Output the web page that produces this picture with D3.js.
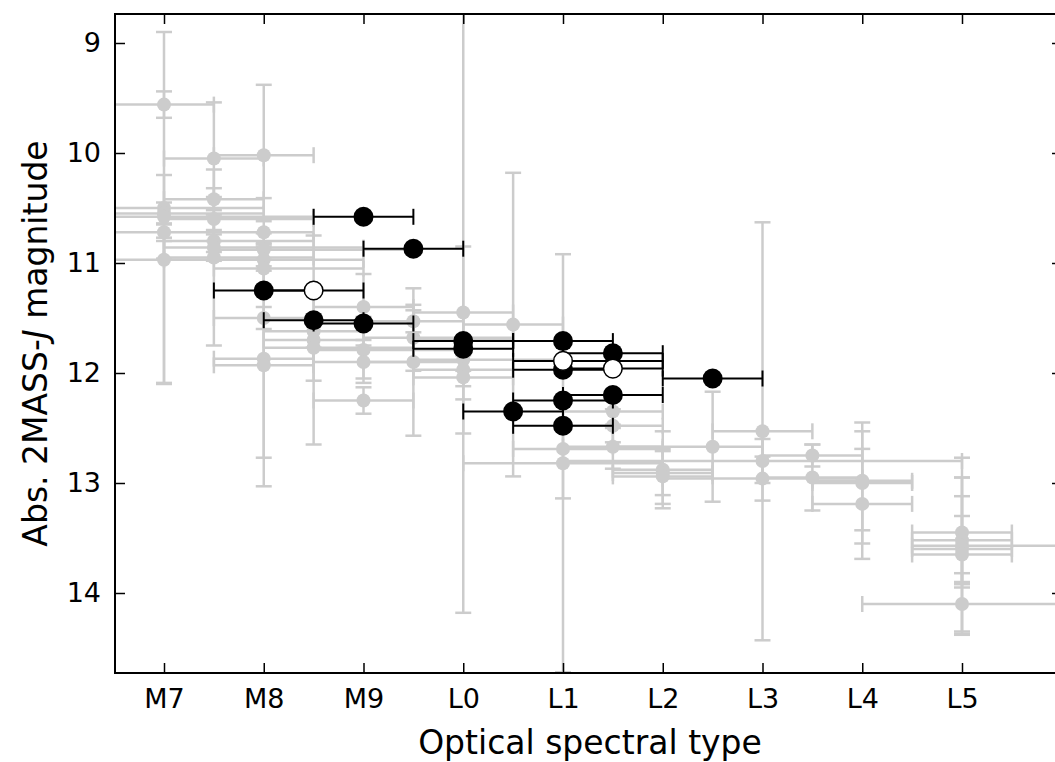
<!DOCTYPE html>
<html><head><meta charset="utf-8">
<script src="https://cdn.jsdelivr.net/npm/d3@7"></script>
<style>body{margin:0;background:#fff;} svg{display:block;}</style>
</head><body>
<script>
// Spectral type numeric code: M7=7 ... M9=9, L0=10 ... L5=15
const tickValues = [7,8,9,10,11,12,13,14,15];
const tickLabels = ["M7","M8","M9","L0","L1","L2","L3","L4","L5"];
const yTicks = [9,10,11,12,13,14];

// Comparison sample (gray): [spt, absJ, xerrLow, xerrHigh, yerrLow, yerrHigh]
const grayData = [
  [7, 9.56, 0.5,0.5, 0.12,0.12],
  [7, 10.5, 0.5,1.0, 1.6,1.6],
  [7, 10.55, 0.5,1.0, 0.1,0.1],
  [7, 10.58, 0.5,1.5, 0.38,0.38],
  [7, 10.72, 0.5,0.5, 0.08,0.08],
  [7, 10.97, 0.5,1.0, 0.2,1.12],
  [7.5, 10.05, 0.5,0.5, 0.51,0.51],
  [7.5, 10.42, 0.5,0.5, 0.1,0.1],
  [7.5, 10.6, 0.5,1.0, 0.2,0.2],
  [7.5, 10.8, 0.5,1.0, 0.1,0.1],
  [7.5, 10.86, 0.5,1.5, 0.12,0.12],
  [7.5, 10.95, 0.5,1.0, 0.8,0.8],
  [8, 10.02, 0.5,0.5, 0.64,0.39],
  [8, 10.72, 0.5,0.5, 0.1,0.1],
  [8, 10.88, 0.5,1.5, 0.15,0.15],
  [8, 10.97, 1.0,1.0, 0.1,0.1],
  [8, 11.05, 0.5,1.0, 0.2,0.2],
  [8, 11.5, 0.5,0.5, 0.1,0.1],
  [8, 11.87, 0.5,0.5, 0.9,0.9],
  [8, 11.93, 0.5,0.5, 1.1,1.1],
  [8.5, 11.62, 0.5,0.5, 0.15,0.15],
  [8.5, 11.7, 0.5,0.5, 0.95,0.95],
  [8.5, 11.77, 0.5,1.0, 0.3,0.3],
  [9, 11.4, 0.5,0.5, 0.3,0.3],
  [9, 11.79, 0.5,1.0, 0.3,0.3],
  [9, 11.9, 0.5,0.5, 0.15,0.15],
  [9, 12.25, 0.5,0.5, 0.12,0.12],
  [9.5, 11.53, 0.5,0.5, 0.1,0.1],
  [9.5, 11.68, 0.5,1.0, 0.3,0.3],
  [9.5, 11.9, 0.5,0.5, 0.67,0.67],
  [10, 11.45, 0.5,0.5, 2.73,2.73],
  [10, 11.7, 0.5,0.5, 0.85,0.85],
  [10, 11.88, 0.5,1.0, 0.1,0.1],
  [10, 11.97, 0.5,0.5, 0.15,0.15],
  [10, 12.04, 0.5,0.5, 0.2,0.2],
  [10.5, 11.56, 0.5,0.5, 1.38,1.38],
  [11, 12.69, 0.5,1.0, 0.45,0.45],
  [11, 12.82, 1.0,1.0, 1.9,1.9],
  [11.5, 12.35, 0.5,0.5, 0.15,0.15],
  [11.5, 12.48, 0.5,0.5, 0.15,0.15],
  [11.5, 12.67, 0.5,0.5, 0.2,0.2],
  [12, 12.88, 0.5,0.5, 0.35,0.35],
  [12, 12.91, 0.5,0.5, 0.2,0.2],
  [12, 12.94, 0.5,0.5, 0.25,0.25],
  [12.5, 12.67, 1.0,0.5, 0.5,0.5],
  [13, 12.53, 0.5,0.5, 1.9,1.9],
  [13, 12.8, 2.0,2.0, 0.2,0.2],
  [13, 12.96, 1.0,1.0, 0.2,0.2],
  [13.5, 12.75, 0.5,0.5, 0.1,0.1],
  [13.5, 12.95, 0.5,0.5, 0.3,0.3],
  [14, 12.98, 0.5,0.5, 0.45,0.45],
  [14, 13.0, 0.5,0.5, 0.55,0.55],
  [14, 13.19, 0.5,0.5, 0.5,0.5],
  [15, 13.45, 0.5,0.5, 0.5,0.5],
  [15, 13.52, 0.5,0.5, 0.4,0.4],
  [15, 13.57, 0.5,1.0, 0.8,0.8],
  [15, 13.6, 0.5,0.5, 0.3,0.3],
  [15, 13.65, 0.5,0.5, 0.7,0.7],
  [15, 14.1, 1.0,1.0, 0.28,0.28]
];

// This work (black filled): [spt, absJ, xerrLow, xerrHigh]
const blackData = [
  [9, 10.58, 0.5,0.5],
  [9.5, 10.87, 0.5,0.5],
  [8, 11.25, 0.5,0.5],
  [8.5, 11.52, 0.5,0.5],
  [9, 11.55, 0.5,0.5],
  [10, 11.71, 0.5,0.5],
  [10, 11.78, 0.5,0.5],
  [11, 11.71, 0.5,0.5],
  [11.5, 11.82, 0.5,0.5],
  [11, 11.97, 0.5,0.5],
  [12.5, 12.05, 0.5,0.5],
  [11.5, 12.2, 0.5,0.5],
  [11, 12.25, 0.5,0.5],
  [10.5, 12.35, 0.5,0.5],
  [11, 12.48, 0.5,0.5]
];
// This work (open)
const openData = [
  [8.5, 11.25, 0.5,0.5],
  [11, 11.89, 0.5,1.0],
  [11.5, 11.96, 0.5,0.5]
];

const W = 1055, H = 762;
const plot = {left:115, right:1062, top:14, bottom:673};
const x = d3.scaleLinear().domain([7,15]).range([164,962]);
const y = d3.scaleLinear().domain([9,14]).range([43,593]);

const svg = d3.select("body").append("svg").attr("width",W).attr("height",H)
  .style("font-family","'DejaVu Sans', sans-serif");

svg.append("defs").append("clipPath").attr("id","clip")
  .append("rect").attr("x",plot.left).attr("y",plot.top)
  .attr("width",plot.right-plot.left).attr("height",plot.bottom-plot.top);

const g = svg.append("g").attr("clip-path","url(#clip)");

function drawErr(layer, data, color, lw, cap, hasY) {
  const e = layer.append("g").attr("stroke",color).attr("stroke-width",lw).attr("fill","none");
  data.forEach(d => {
    const cx = x(d[0]), cy = y(d[1]);
    const x0 = x(d[0]-d[2]), x1 = x(d[0]+d[3]);
    e.append("line").attr("x1",x0).attr("x2",x1).attr("y1",cy).attr("y2",cy);
    e.append("line").attr("x1",x0).attr("x2",x0).attr("y1",cy-cap).attr("y2",cy+cap);
    e.append("line").attr("x1",x1).attr("x2",x1).attr("y1",cy-cap).attr("y2",cy+cap);
    if (hasY) {
      const y0 = y(d[1]-d[4]), y1 = y(d[1]+d[5]);
      e.append("line").attr("x1",cx).attr("x2",cx).attr("y1",y0).attr("y2",y1);
      e.append("line").attr("x1",cx-cap).attr("x2",cx+cap).attr("y1",y0).attr("y2",y0);
      e.append("line").attr("x1",cx-cap).attr("x2",cx+cap).attr("y1",y1).attr("y2",y1);
    }
  });
}

// gray sample
drawErr(g, grayData, "#cccccc", 2.5, 8, true);
g.append("g").selectAll("circle").data(grayData).join("circle")
  .attr("cx",d=>x(d[0])).attr("cy",d=>y(d[1])).attr("r",7).attr("fill","#cccccc");

// black sample
drawErr(g, blackData.concat(openData), "#000", 2, 8, false);
g.append("g").selectAll("circle").data(blackData).join("circle")
  .attr("cx",d=>x(d[0])).attr("cy",d=>y(d[1])).attr("r",10).attr("fill","#000");
g.append("g").selectAll("circle").data(openData).join("circle")
  .attr("cx",d=>x(d[0])).attr("cy",d=>y(d[1])).attr("r",9.3)
  .attr("fill","#fff").attr("stroke","#000").attr("stroke-width",1.5);

// frame
svg.append("rect").attr("x",plot.left).attr("y",plot.top)
  .attr("width",plot.right-plot.left).attr("height",plot.bottom-plot.top)
  .attr("fill","none").attr("stroke","#000").attr("stroke-width",2);

// axes (inward ticks) on all sides
const tl = 10;
const xb = svg.append("g").attr("transform",`translate(0,${plot.bottom})`)
  .call(d3.axisBottom(x).tickValues(tickValues).tickFormat((d,i)=>tickLabels[i]).tickSizeInner(-tl).tickSizeOuter(0).tickPadding(16));
const xt = svg.append("g").attr("transform",`translate(0,${plot.top})`)
  .call(d3.axisTop(x).tickValues(tickValues).tickFormat("").tickSizeInner(-tl).tickSizeOuter(0));
const yl = svg.append("g").attr("transform",`translate(${plot.left},0)`)
  .call(d3.axisLeft(y).tickValues(yTicks).tickFormat(d3.format("d")).tickSizeInner(-tl).tickSizeOuter(0).tickPadding(14));
const yr = svg.append("g").attr("transform",`translate(${plot.right},0)`)
  .call(d3.axisRight(y).tickValues(yTicks).tickFormat("").tickSizeInner(-tl).tickSizeOuter(0));
[xb,xt,yl,yr].forEach(a=>{
  a.select(".domain").remove();
  a.selectAll(".tick line").attr("stroke","#000").attr("stroke-width",1.5);
  a.selectAll("text").attr("fill","#000").style("font-size","27px").style("font-family","'DejaVu Sans', sans-serif");
});
xb.selectAll("text").attr("dy","0.71em");

// axis labels
svg.append("text").attr("x",590).attr("y",754).attr("text-anchor","middle")
  .style("font-size","33px").text("Optical spectral type");
const ylab = svg.append("text").attr("transform",`translate(47,${(plot.top+plot.bottom)/2}) rotate(-90)`)
  .attr("text-anchor","middle").style("font-size","33px");
ylab.append("tspan").text("Abs. 2MASS-");
ylab.append("tspan").style("font-style","italic").text("J");
ylab.append("tspan").text(" magnitude");
</script>
</body></html>
